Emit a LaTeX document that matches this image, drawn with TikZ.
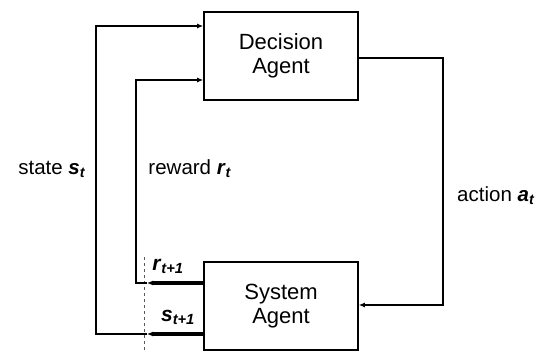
\documentclass[tikz,border=0pt]{standalone}
\usepackage{fontspec}
\setmainfont{Liberation Sans}
\usetikzlibrary{arrows.meta}
\newcommand\myvar[2]{\textbf{\textit{#1}}\textsubscript{\textbf{\textit{#2}}}}
\begin{document}
\begin{tikzpicture}[x=1pt,y=-1pt,
  agentbox/.style={draw,line width=1.6pt,minimum width=154pt,minimum height=88pt,inner sep=0pt,
     align=center,font=\fontsize{22}{24}\selectfont},
  conn/.style={line width=1.6pt},
  heavy/.style={line width=3.2pt},
  tipped/.style={-{Latex[length=6pt,width=5pt]}},
  lbl/.style={font=\fontsize{20.5}{22}\selectfont,inner sep=0pt},
  sublbl/.style={font=\fontsize{21}{23}\selectfont,inner sep=0pt}]
\useasboundingbox (0,0) rectangle (550,353);
\node[agentbox] (da) at (281,56) {Decision\\Agent};
\node[agentbox] (sa) at (281,306) {System\\Agent};
\coordinate (sT) at (96,26);
\coordinate (sB) at (96,334);
\coordinate (rT) at (136,80);
\coordinate (rB) at (136,283);
\coordinate (aT) at (443,58);
\coordinate (aB) at (443,305);
\coordinate (cutT) at (144,257);
\coordinate (cutB) at (144,353);
\coordinate (tipx) at (147,0);
% dashed time boundary
\draw[line width=0.9pt,dash pattern=on 3pt off 3pt,gray!70!black] (cutT) -- (cutB);
% state loop
\draw[heavy,tipped] (sa.west |- sB) -- (tipx |- sB);
\draw[conn,tipped] (tipx |- sB) -- (sB) -- (sT) -- (da.west |- sT);
% reward loop
\draw[heavy,tipped] (sa.west |- rB) -- (tipx |- rB);
\draw[conn,tipped] (tipx |- rB) -- (rB) -- (rT) -- (da.west |- rT);
% action
\draw[conn,-{Latex[length=6pt,width=5pt]}] (da.east |- aT) -- (aT) -- (aB) -- (sa.east |- aB);
% labels
\node[lbl] (ls) at (52,169) {state \myvar{s}{t}};
\node[lbl] (lr) at (190,169) {reward \myvar{r}{t}};
\node[lbl] (la) at (496,196) {action \myvar{a}{t}};
\node[sublbl] (lr1) at (168,266) {\myvar{r}{t+1}};
\node[sublbl] (ls1) at (178,317) {\myvar{s}{t+1}};
\end{tikzpicture}
\end{document}
